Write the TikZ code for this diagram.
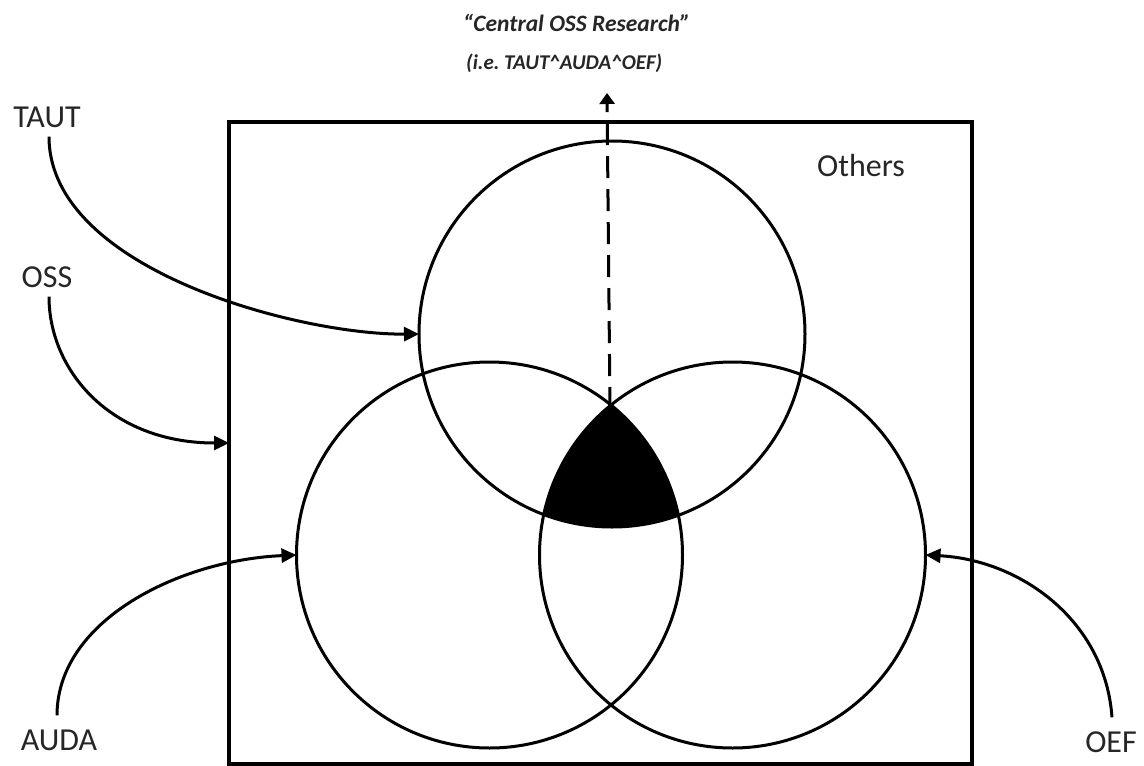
\documentclass[tikz,border=0pt]{standalone}
\usepackage{fontspec}
\setmainfont{Carlito}
\usetikzlibrary{arrows.meta}
\tikzset{
  label/.style={font=\fontsize{32}{38}\selectfont, text=black!85, inner sep=0pt, anchor=center},
  title/.style={text=black!85, inner sep=0pt, anchor=west},
  set/.style={circle, draw, line width=3pt, minimum size=386pt, inner sep=0pt, outer sep=0pt},
  pointer/.style={line width=3pt, -{Triangle[length=15pt,width=14pt]}},
}
\begin{document}
\begin{tikzpicture}[x=1pt,y=-1pt]
\useasboundingbox (0,0) rectangle (1144,766);

% universe of all research
\node[draw, line width=3.4pt, minimum width=743pt, minimum height=642pt, inner sep=0pt, outer sep=0pt] (box) at (600.5,443) {};

% the three sets
\coordinate (cT) at (612,334);
\coordinate (cL) at (489.5,555);
\coordinate (cR) at (732.5,555);

% common intersection
\begin{scope}
  \clip (cT) circle[radius=193pt];
  \clip (cR) circle[radius=193pt];
  \fill (cL) circle[radius=193pt];
\end{scope}

\node[set] (taut) at (cT) {};
\node[set] (auda) at (cL) {};
\node[set] (oef) at (cR) {};

% labels
\node[label] (ltaut) at (47,117) {TAUT};
\node[label] (loss) at (47,277) {OSS};
\node[label] (lauda) at (59,740) {AUDA};
\node[label] (loef) at (1111,742) {OEF};
\node[label] (lothers) at (861,166) {Others};
\node[title, font=\fontsize{23.5}{28}\selectfont\bfseries\itshape] (central) at (463,23) {“Central OSS Research”};
\node[title, font=\fontsize{21}{28}\selectfont\bfseries\itshape] (central2) at (466,63) {(i.e.\ TAUT\^{}AUDA\^{}OEF)};

% pointers from the labels
\draw[pointer] (ltaut.south) ++(2,9) coordinate (s1)
  (s1) .. controls (49,270) and (300,335) .. (taut.west);
\draw[pointer] (loss.south) ++(2,9) coordinate (s2)
  (s2) .. controls (49,370) and (110,443) .. (box.west);
\draw[pointer] (lauda.north) ++(-2,-14) coordinate (s3)
  (s3) .. controls (57,620) and (180,560) .. (auda.west);
\draw[pointer] (loef.north) ++(1,-14) coordinate (s4)
  (s4) .. controls (1105,620) and (1020,560) .. (oef.east);

% dashed pointer to the central region
\coordinate (apex) at (610,409);
\coordinate (tip) at (607,93);
\draw[line width=3pt, dash pattern=on 22pt off 11pt, -{Triangle[length=11pt,width=15pt]}] (apex) -- (tip);
\end{tikzpicture}
\end{document}
